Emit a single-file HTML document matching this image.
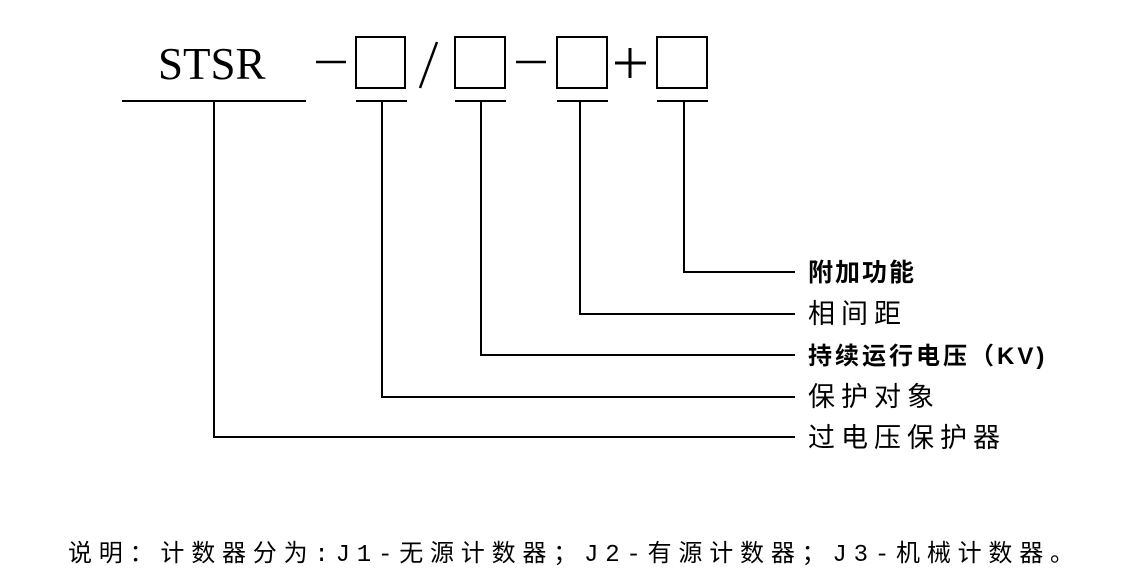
<!DOCTYPE html>
<html><head><meta charset="utf-8"><style>body{margin:0;background:#fff}</style></head>
<body>
<svg width="1129" height="579" viewBox="0 0 1129 579" xmlns="http://www.w3.org/2000/svg">
<g stroke="#000" stroke-width="2" fill="none">
<line x1="122" y1="101" x2="306" y2="101"/>
<rect x="356" y="37" width="49" height="51"/>
<rect x="455" y="37" width="50" height="51"/>
<rect x="557" y="37" width="50" height="51"/>
<rect x="657" y="37" width="50" height="51"/>
<line x1="356" y1="101" x2="407" y2="101"/>
<line x1="455" y1="101" x2="506" y2="101"/>
<line x1="557" y1="101" x2="608" y2="101"/>
<line x1="657" y1="101" x2="708" y2="101"/>
<polyline points="214,101 214,437 795,437"/>
<polyline points="382,101 382,397 795,397"/>
<polyline points="481,101 481,355 795,355"/>
<polyline points="580,101 580,314 795,314"/>
<polyline points="684,101 684,272 795,272"/>
<line x1="316" y1="62" x2="346" y2="62" stroke-width="2.5"/>
<line x1="516" y1="62" x2="546" y2="62" stroke-width="2.5"/>
<line x1="437" y1="42" x2="420" y2="88" stroke-width="2.5"/>
<line x1="615" y1="63" x2="646" y2="63" stroke-width="3"/>
<line x1="630" y1="48" x2="630" y2="78" stroke-width="3"/>
</g>
<text x="158" y="79" font-family="Liberation Serif, serif" font-size="45">STSR</text>
<g font-family="Liberation Sans, Noto Sans CJK SC, sans-serif" fill="#000">
<text x="808" y="281" font-weight="bold" font-size="25" letter-spacing="2">附加功能</text>
<text x="808" y="323" font-size="27" letter-spacing="6">相间距</text>
<text x="808" y="364" font-weight="bold" font-size="24" letter-spacing="3">持续运行电压（KV)</text>
<text x="808" y="406" font-size="27" letter-spacing="6">保护对象</text>
<text x="808" y="447" font-size="27" letter-spacing="6">过电压保护器</text>
</g>
<text x="68" y="561" font-family="Liberation Mono, Noto Sans CJK SC, monospace" font-size="24" letter-spacing="6.8">说明：计数器分为:J1-无源计数器；J2-有源计数器；J3-机械计数器。</text>
</svg>
</body></html>
